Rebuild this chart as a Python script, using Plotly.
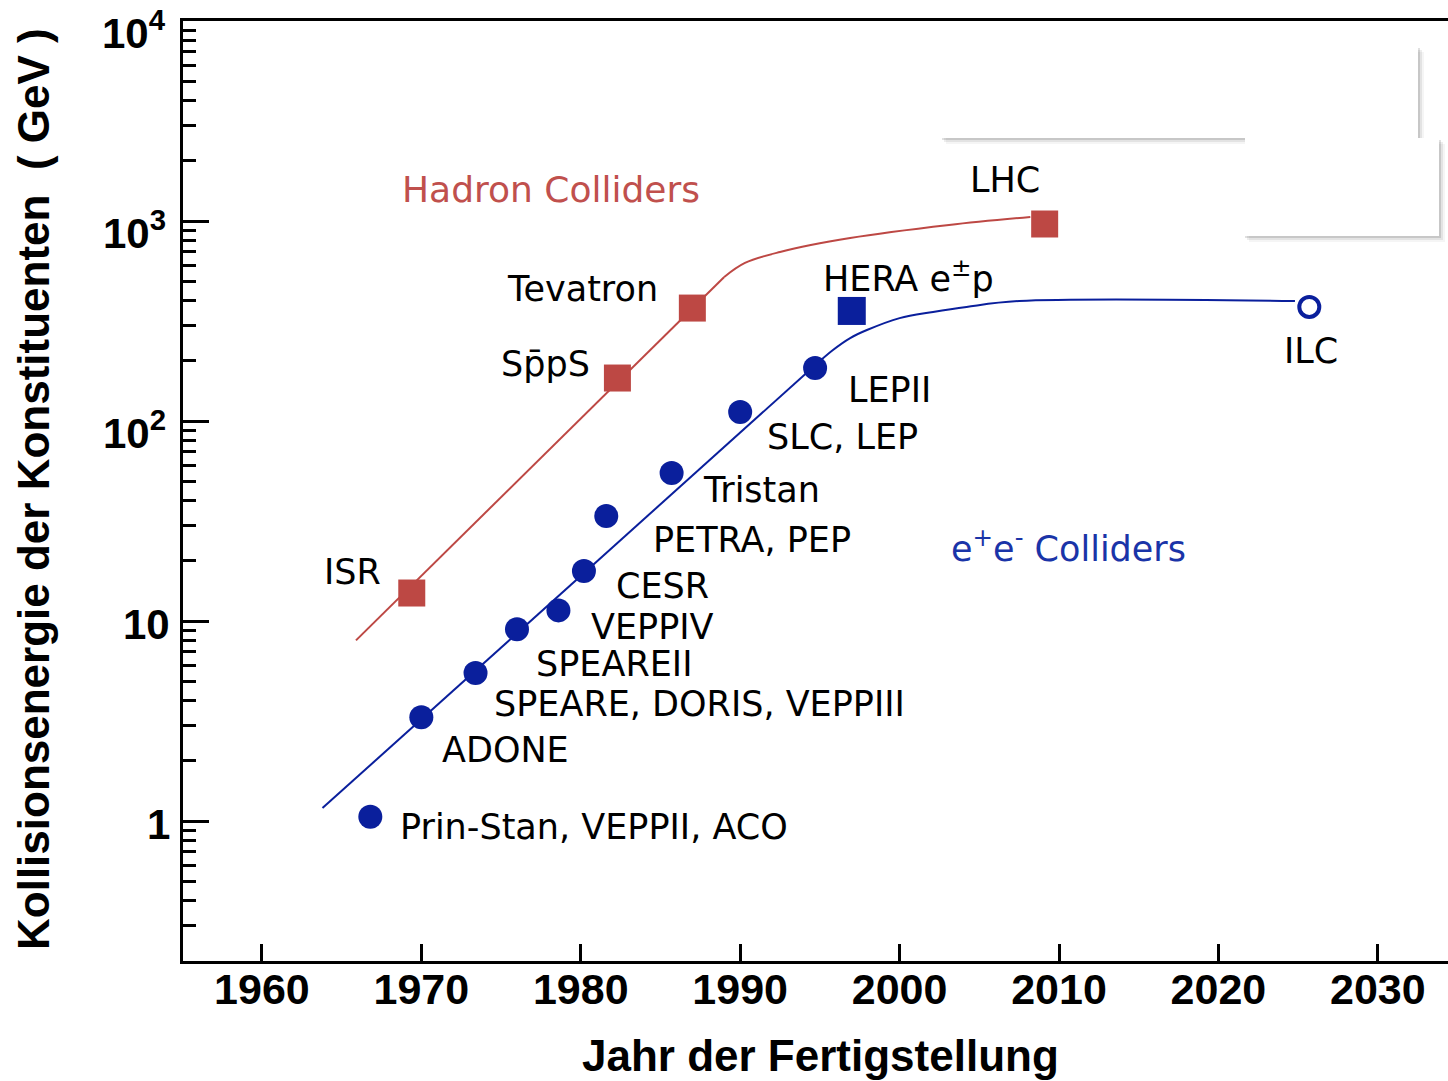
import math
import plotly.graph_objects as go

# --- e+e- colliders -------------------------------------------------------
ee_names = ["Prin-Stan, VEPPII, ACO", "ADONE", "SPEARE, DORIS, VEPPIII", "SPEAREII",
            "VEPPIV", "CESR", "PETRA, PEP", "Tristan", "SLC, LEP", "LEPII"]
ee_years = [1966.8, 1970.0, 1973.4, 1976.0, 1978.6, 1980.2, 1981.6, 1985.7, 1990.0, 1994.7]
ee_energy = [1.05, 3.3, 5.5, 9.1, 11.3, 17.8, 33.5, 55, 111, 184]

# --- hadron colliders -----------------------------------------------------
had_names = ["ISR", "Sp\u0304pS", "Tevatron", "LHC"]
had_years = [1969.4, 1982.3, 1987.0, 2009.1]
had_energy = [13.8, 164, 367, 966]

# --- ep and planned collider ----------------------------------------------
hera_year, hera_energy = [1997.0], [355]
ilc_year, ilc_energy = [2025.7], [372]

# --- trend curves ---------------------------------------------------------
had_trend_lin_x = [1965.9, 1989.0]
had_trend_lin_y = [8.0, 525]
had_trend_curve_x = [1989.0, 1990.3, 1992.5, 1996.9, 2003.1, 2008.2]
had_trend_curve_y = [525, 617, 700, 822, 955, 1047]

ee_trend_lin_x = [1963.8, 1994.7]
ee_trend_lin_y = [1.16, 190]
ee_trend_curve_x = [1994.7, 1995.8, 1996.9, 1997.95, 2000.0, 2002.1, 2004.2, 2007.5, 2024.8]
ee_trend_curve_y = [190, 226, 260, 285, 327, 351, 372, 398, 398]

# --- axis ticks -----------------------------------------------------------
year_ticks = [1960, 1970, 1980, 1990, 2000, 2010, 2020, 2030]
energy_ticks = [1, 10, 100, 1000, 10000]
energy_ticktext = ["1", "10", "10<sup>2</sup>", "10<sup>3</sup>", "10<sup>4</sup>"]

RED = "#BD4844"
BLUE = "#0A1F9C"

# plot-area geometry in pixels (for decorations placed in paper units)
W, H = 1448, 1081
L, T, B = 183, 21, 961
R = W


def px(x):
    return (x - L) / (R - L)


def py(y):
    return (B - y) / (B - T)


fig = go.Figure()

for xs, ys, shape, col in [
    (had_trend_lin_x, had_trend_lin_y, "linear", RED),
    (had_trend_curve_x, had_trend_curve_y, "spline", RED),
    (ee_trend_lin_x, ee_trend_lin_y, "linear", BLUE),
    (ee_trend_curve_x, ee_trend_curve_y, "spline", BLUE),
]:
    fig.add_trace(go.Scatter(x=xs, y=ys, mode="lines",
                             line=dict(color=col, width=2, shape=shape, smoothing=1.0),
                             hoverinfo="skip"))

fig.add_trace(go.Scatter(x=had_years, y=had_energy, mode="markers",
                         marker=dict(symbol="square", size=27, color=RED, line=dict(width=0))))
fig.add_trace(go.Scatter(x=hera_year, y=hera_energy, mode="markers",
                         marker=dict(symbol="square", size=28, color=BLUE, line=dict(width=0))))
fig.add_trace(go.Scatter(x=ee_years, y=ee_energy, mode="markers",
                         marker=dict(symbol="circle", size=24, color=BLUE, line=dict(width=0))))
fig.add_trace(go.Scatter(x=ilc_year, y=ilc_energy, mode="markers",
                         marker=dict(symbol="circle-open", size=20, color=BLUE,
                                     line=dict(width=4, color=BLUE))))

LABEL_FONT = dict(family="DejaVu Sans", size=35, color="black")

# label offsets (pixels) relative to each marker
ee_offsets = [(29, -10), (20, -33), (17, -31), (18, -35), (32, -17),
              (31, -15), (46, -24), (30, -17), (26, -25), (32, -22)]
for name, x, y, (dx, dy) in zip(ee_names, ee_years, ee_energy, ee_offsets):
    fig.add_annotation(x=x, y=math.log10(y), text=name, showarrow=False,
                       xanchor="left", yanchor="middle", xshift=dx, yshift=dy,
                       font=LABEL_FONT, borderpad=0)

had_offsets = [("right", -30, 21), ("right", -26, 14), ("right", -33, 19), ("center", -40, 44)]
for name, x, y, (anc, dx, dy) in zip(had_names, had_years, had_energy, had_offsets):
    fig.add_annotation(x=x, y=math.log10(y), text=name, showarrow=False,
                       xanchor=anc, yanchor="middle", xshift=dx, yshift=dy,
                       font=LABEL_FONT, borderpad=0)

fig.add_annotation(x=hera_year[0], y=math.log10(hera_energy[0]), text="HERA e<sup>\u00b1</sup>p",
                   showarrow=False, xanchor="left", yanchor="middle", xshift=-30, yshift=35,
                   font=LABEL_FONT, borderpad=0)
fig.add_annotation(x=ilc_year[0], y=math.log10(ilc_energy[0]), text="ILC",
                   showarrow=False, xanchor="center", yanchor="middle", xshift=2, yshift=-44,
                   font=LABEL_FONT, borderpad=0)

# group captions
fig.add_annotation(xref="paper", yref="paper", x=px(400), y=py(190), text="Hadron Colliders",
                   showarrow=False, xanchor="left", yanchor="middle",
                   font=dict(family="DejaVu Sans", size=36, color="#C0504D"))
fig.add_annotation(xref="paper", yref="paper", x=px(949), y=py(546),
                   text="e<sup>+</sup>e<sup>-</sup> Colliders",
                   showarrow=False, xanchor="left", yanchor="middle",
                   font=dict(family="DejaVu Sans", size=35, color="#1A34A8"))

# y tick labels (bold, superscripted powers of ten)
TICK_FONT = dict(family="Liberation Sans", size=42, color="black")
for v, txt in zip(energy_ticks, energy_ticktext):
    sup = "<sup>" in txt
    fig.add_annotation(xref="paper", y=math.log10(v), x=px(167 if sup else 171),
                       text="<b>%s</b>" % txt, showarrow=False,
                       xanchor="right", yanchor="middle", yshift=-9 if sup else -3,
                       font=TICK_FONT, borderpad=0)

# axis titles
TITLE_FONT = dict(family="Liberation Sans", size=44, color="black")
fig.add_annotation(xref="paper", yref="paper", x=px(820), y=py(1055),
                   text="<b>Jahr der Fertigstellung</b>", showarrow=False,
                   xanchor="center", yanchor="middle", font=TITLE_FONT, borderpad=0)
fig.add_annotation(xref="paper", yref="paper", x=px(33), y=py(489),
                   text="<b>Kollisionsenergie der Konstituenten\u00a0\u00a0( GeV )</b>",
                   showarrow=False, textangle=-90, xanchor="center", yanchor="middle",
                   font=TITLE_FONT)

# two blank panels with soft drop shadows in the upper right
panels = [(942, 46, 1418, 138), (1245, 138, 1439, 236)]
shapes = []
for (x0, y0, x1, y1) in panels:
    for k, op in [(6, 0.04), (4, 0.07), (2, 0.12)]:
        shapes.append(dict(type="rect", xref="paper", yref="paper",
                           x0=px(x0 + k - 2), x1=px(x1 + k), y0=py(y0 + k), y1=py(y1 + k),
                           fillcolor="rgba(0,0,0,%.2f)" % op, line=dict(width=0), layer="above"))
for (x0, y0, x1, y1) in panels:
    shapes.append(dict(type="rect", xref="paper", yref="paper",
                       x0=px(x0), x1=px(x1), y0=py(y0), y1=py(y1),
                       fillcolor="white", line=dict(width=0), layer="above"))
fig.update_layout(shapes=shapes)

minor_vals = [m * 10 ** e for e in range(-1, 4) for m in range(2, 10)]

fig.update_layout(
    width=W, height=H,
    margin=dict(l=L, r=W - R, t=T, b=H - B, pad=0),
    paper_bgcolor="white", plot_bgcolor="white",
    showlegend=False,
    xaxis=dict(range=[1955.05, 2034.4], tickvals=year_ticks,
               ticks="inside", ticklen=17, tickwidth=3, tickcolor="black",
               showline=True, linewidth=3, linecolor="black", mirror=True,
               showgrid=False, zeroline=False,
               tickfont=dict(family="Liberation Sans", size=43, color="black", weight="bold"),
               ticklabelstandoff=-12),
    yaxis=dict(type="log", range=[-0.70, 4.0],
               tickvals=energy_ticks, showticklabels=False,
               ticks="inside", ticklen=26, tickwidth=3, tickcolor="black",
               minor=dict(tickvals=minor_vals, ticks="inside", ticklen=13, tickwidth=3,
                          tickcolor="black", showgrid=False),
               showline=True, linewidth=3, linecolor="black", mirror=False,
               showgrid=False, zeroline=False),
)

fig.write_html("out.html")
